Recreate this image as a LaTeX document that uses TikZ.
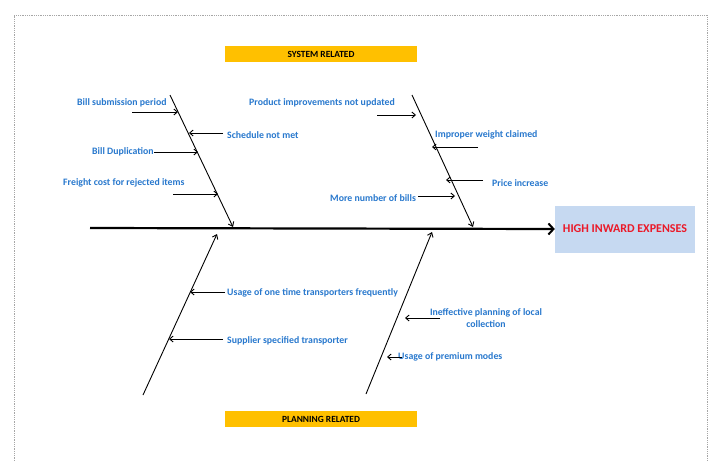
\documentclass[tikz,border=0pt]{standalone}
\usepackage{fontspec}
\setmainfont{Carlito}
\usetikzlibrary{arrows.meta}
\definecolor{causeblue}{RGB}{40,120,205}
\definecolor{catyellow}{RGB}{255,192,0}
\definecolor{effectfill}{RGB}{198,217,241}
\definecolor{effectred}{RGB}{235,25,40}
\begin{document}
\begin{tikzpicture}[x=1pt,y=-1pt,
  cause/.style={text=causeblue,font=\fontsize{9.8}{11.5}\selectfont\bfseries,inner sep=0pt,anchor=west},
  bone/.style={line width=0.9pt,-{Straight Barb[length=4pt,width=6pt]}},
  twig/.style={line width=0.9pt,-{Straight Barb[length=3.5pt,width=6pt]}},
  spine/.style={line width=2.2pt,-{Straight Barb[length=5pt,width=11pt,line width=2pt]}},
  catbox/.style={fill=catyellow,minimum width=192pt,minimum height=16pt,inner sep=0pt,font=\fontsize{9.4}{11}\selectfont\bfseries},
  frame/.style={draw=gray!70,densely dotted,line width=0.8pt}]
\useasboundingbox (0,0) rectangle (709,461);
% page frame
\draw[frame] (14,461) -- (14,15) -- (707,15) -- (707,461);
% category boxes
\node[catbox] (sys) at (321,54) {SYSTEM RELATED};
\node[catbox] (plan) at (321,419) {PLANNING RELATED};
% effect
\node[fill=effectfill,minimum width=140pt,minimum height=47pt,inner sep=0pt,text=effectred,font=\fontsize{12}{14}\selectfont\bfseries] (eff) at (625,229) {HIGH INWARD EXPENSES};
% spine
\coordinate (spS) at (90,228);
\draw[spine] (spS) -- (eff.west);
% bones
\coordinate (ulT) at (170,95);  \coordinate (ulB) at (233,227);
\coordinate (urT) at (412,95);  \coordinate (urB) at (473,227);
\coordinate (llB) at (143,395); \coordinate (llT) at (217,234);
\coordinate (lrB) at (366,394); \coordinate (lrT) at (432,232);
\draw[bone] (ulT) -- (ulB);
\draw[bone] (urT) -- (urB);
\draw[bone] (llB) -- (llT);
\draw[bone] (lrB) -- (lrT);
% cause texts
\node[cause] (t1) at (77,103) {Bill submission period};
\node[cause] (t2) at (227,135) {Schedule not met};
\node[cause] (t3) at (92,152) {Bill Duplication};
\node[cause] (t4) at (63,183) {Freight cost for rejected items};
\node[cause] (t5) at (249,103) {Product improvements not updated};
\node[cause] (t6) at (435,135) {Improper weight claimed};
\node[cause] (t7) at (492,183) {Price increase};
\node[cause] (t8) at (330,198) {More number of bills};
\node[cause] (t9) at (227,293) {Usage of one time transporters frequently};
\node[cause] (t10) at (227,341) {Supplier specified transporter};
\node[cause,anchor=center,align=center] (t11) at (486,318) {Ineffective planning of local\\collection};
\node[cause] (t12) at (398,357) {Usage of premium modes};
% twig arrows
\coordinate (a1s) at (132,112); \coordinate (a1e) at (178,112);
\coordinate (a2s) at (223,133); \coordinate (a2e) at (189,133);
\coordinate (a3s) at (t3.east); \coordinate (a3e) at (198,154);
\coordinate (a4s) at (173,194); \coordinate (a4e) at (218,194);
\coordinate (a5s) at (377,115); \coordinate (a5e) at (416,115);
\coordinate (a6s) at (478,147); \coordinate (a6e) at (432,147);
\coordinate (a7s) at (483,180); \coordinate (a7e) at (446,180);
\coordinate (a8s) at (418,196); \coordinate (a8e) at (455,196);
\coordinate (a9s) at (225,292); \coordinate (a9e) at (190,292);
\coordinate (a10s) at (223,339); \coordinate (a10e) at (169,339);
\coordinate (a11s) at (440,318); \coordinate (a11e) at (405,318);
\coordinate (a12s) at (402,357); \coordinate (a12e) at (387,357);
\foreach \i in {1,2,4,5,6,7,8,9,10,11,12} \draw[twig] (a\i s) -- (a\i e);
\draw[twig] (a3s) -- (a3e |- a3s);
\end{tikzpicture}
\end{document}
